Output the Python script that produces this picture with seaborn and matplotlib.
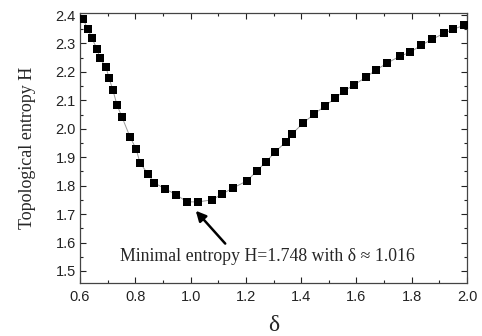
import numpy as np
import pandas as pd
import seaborn as sns
import matplotlib.pyplot as plt
from matplotlib.ticker import MultipleLocator

# values
delta = [0.611, 0.629, 0.643, 0.662, 0.672, 0.694, 0.705, 0.719, 0.734, 0.752,
         0.781, 0.803, 0.817, 0.846, 0.868, 0.908, 0.948, 0.987, 1.027, 1.078,
         1.114, 1.154, 1.204, 1.240, 1.273, 1.306, 1.345, 1.367, 1.407, 1.447,
         1.486, 1.523, 1.555, 1.591, 1.635, 1.671, 1.711, 1.758, 1.794, 1.834,
         1.874, 1.917, 1.950, 1.989]
entropy = [2.385, 2.350, 2.318, 2.280, 2.248, 2.217, 2.178, 2.136, 2.083, 2.041,
           1.971, 1.929, 1.880, 1.841, 1.810, 1.789, 1.768, 1.743, 1.743, 1.750,
           1.771, 1.792, 1.817, 1.852, 1.884, 1.919, 1.954, 1.982, 2.020, 2.052,
           2.080, 2.108, 2.133, 2.154, 2.182, 2.207, 2.231, 2.256, 2.269, 2.294,
           2.315, 2.336, 2.350, 2.364]

annot_text = "Minimal entropy H=1.748 with \u03b4 \u2248 1.016"
arrow_tip = (1.012, 1.719)
arrow_tail = (1.132, 1.589)

df = pd.DataFrame({'delta': delta, 'H': entropy})

sns.set_theme(style="ticks")
plt.rcParams['font.family'] = ['Liberation Sans', 'DejaVu Sans']
serif = ['Liberation Serif', 'DejaVu Serif']

fig = plt.figure(figsize=(4.82, 3.36), dpi=100)
ax = fig.add_axes([0.166, 0.158, 0.803, 0.804])

sns.lineplot(data=df, x='delta', y='H', ax=ax, color='#999999', linewidth=0.7,
             sort=False)
sns.scatterplot(data=df, x='delta', y='H', ax=ax, marker='s', s=30,
                color='black', edgecolor='black', linewidth=0, zorder=3)

ax.set_xlim(0.6, 2.0)
ax.set_ylim(1.458, 2.408)
ax.xaxis.set_major_locator(MultipleLocator(0.2))
ax.xaxis.set_minor_locator(MultipleLocator(0.1))
ax.yaxis.set_major_locator(MultipleLocator(0.1))
ax.yaxis.set_minor_locator(MultipleLocator(0.05))
ax.tick_params(which='both', direction='in', top=True, right=True,
               labelsize=10.5, colors='#222222', pad=3)
ax.tick_params(axis='x', which='both', pad=5)
ax.tick_params(which='major', length=4, width=0.8)
ax.tick_params(which='minor', length=2, width=0.8)
for s in ax.spines.values():
    s.set_color('#444444')
    s.set_linewidth(0.9)

ax.set_xlabel('\u03b4', family=serif, fontsize=17, labelpad=8)
ax.set_ylabel('Topological entropy H', family=serif, fontsize=13, labelpad=14)

ax.annotate('', xy=arrow_tip, xytext=arrow_tail,
            arrowprops=dict(arrowstyle='-|>', color='black', lw=1.8,
                            mutation_scale=15))
ax.text(1.277, 1.550, annot_text, family=serif, fontsize=12.8,
        ha='center', va='center')

fig.savefig('out.png', dpi=100)
